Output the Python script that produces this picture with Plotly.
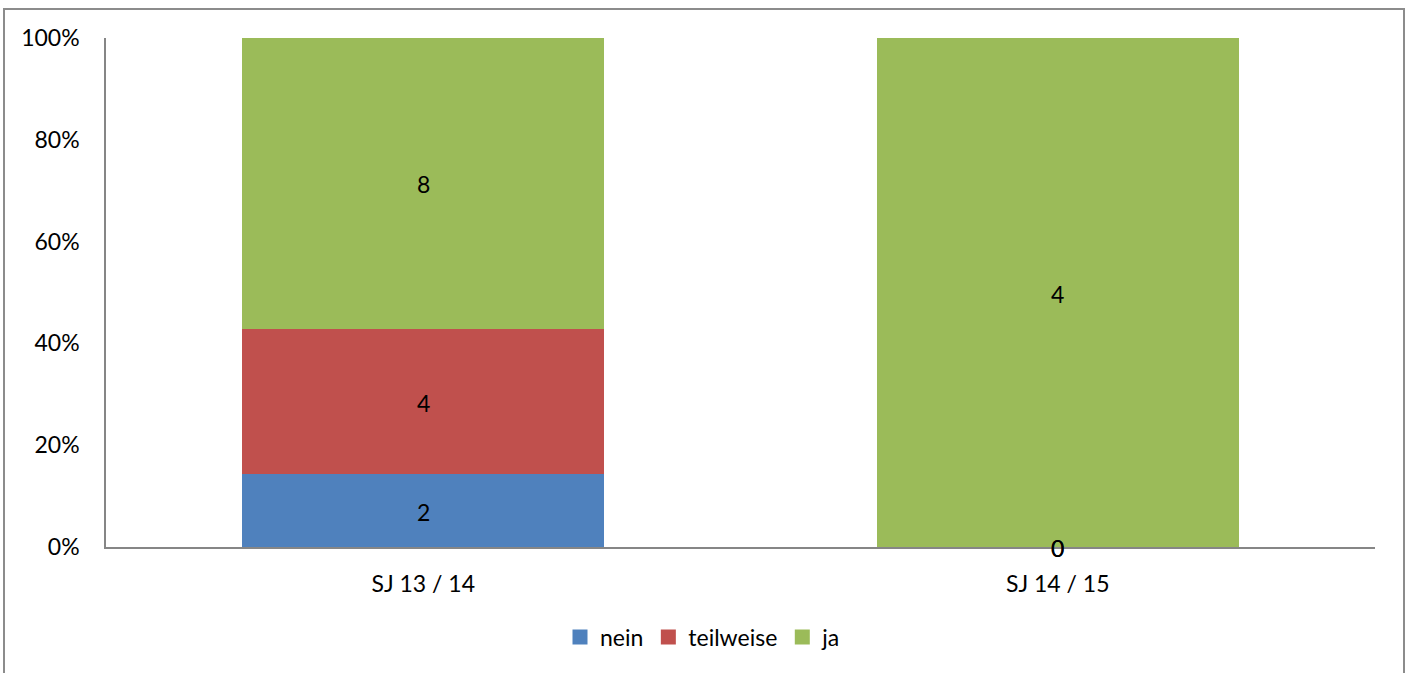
import numpy as np
import plotly.graph_objects as go

# Survey answers per school year
categories = ["SJ 13 / 14", "SJ 14 / 15"]
series_names = ["nein", "teilweise", "ja"]
nein = [2, 0]
teilweise = [4, 0]
ja = [8, 4]
colors = ["#4F81BD", "#C0504D", "#9BBB59"]
y_ticks = [0, 20, 40, 60, 80, 100]

W, H = 1409, 673
M_L, M_R, M_T, M_B = 106, 34, 38, 126
FONT = dict(family="Lato, Carlito, sans-serif", size=23, color="#000000")

counts = np.array([nein, teilweise, ja], dtype=float)
totals = counts.sum(axis=0)
shares = counts / totals * 100.0
bases = np.vstack([np.zeros(len(categories)), np.cumsum(shares, axis=0)[:-1]])

fig = go.Figure()
for name, pct, color in zip(series_names, shares, colors):
    fig.add_trace(go.Bar(
        name=name, x=categories, y=pct, marker=dict(color=color, line=dict(width=0)),
        width=0.57, hoverinfo="skip", showlegend=False, legendgroup=name,
    ))

# legend entries with square swatches
for name, color in zip(series_names, colors):
    fig.add_trace(go.Scatter(
        name=name, x=[None], y=[None], mode="markers", legendgroup=name,
        marker=dict(symbol="square", size=15, color=color), hoverinfo="skip",
    ))

# value labels centred in each segment (zero segments sit on the baseline)
for vals, pct, base in zip(counts, shares, bases):
    for cat, v, p, b in zip(categories, vals, pct, base):
        fig.add_annotation(x=cat, y=b + p / 2, text=str(int(v)), showarrow=False,
                           font=FONT, xanchor="center", yanchor="middle", yshift=-1)

pw = W - M_L - M_R
ph = H - M_T - M_B
def px_x(x):
    return (x - M_L) / pw
def px_y(y):
    return (H - M_B - y) / ph

# outer chart frame
fig.add_shape(type="rect", xref="paper", yref="paper",
              x0=px_x(4), x1=px_x(1404), y0=px_y(680), y1=px_y(9),
              line=dict(color="#8C8C8C", width=2), fillcolor="rgba(0,0,0,0)", layer="below")

fig.update_layout(
    width=W, height=H, barmode="stack",
    margin=dict(l=M_L, r=M_R, t=M_T, b=M_B),
    paper_bgcolor="white", plot_bgcolor="white",
    font=FONT, bargap=0.43,
    legend=dict(orientation="h", x=px_x(703), xanchor="center", y=px_y(637), yanchor="middle",
                font=FONT, traceorder="normal", itemwidth=30, tracegroupgap=0),
    xaxis=dict(showline=True, linecolor="#868686", linewidth=1.5, ticks="", showgrid=False,
               zeroline=False, ticklabelstandoff=16, tickfont=FONT),
    yaxis=dict(range=[0, 100], tickvals=y_ticks, ticktext=[f"{t}%" for t in y_ticks],
               showline=True, linecolor="#868686", linewidth=1.5, ticks="", showgrid=False,
               zeroline=False, ticklabelstandoff=20, tickfont=FONT),
)

fig.write_html("out.html")
